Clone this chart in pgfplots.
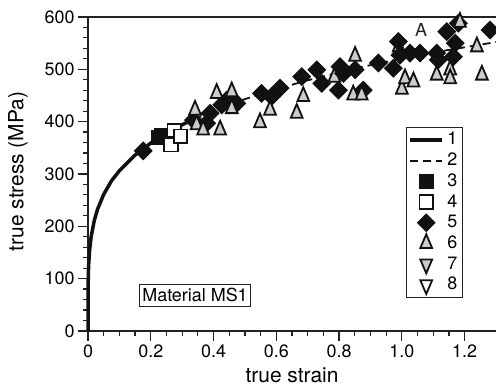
\documentclass[border=0pt]{standalone}
\usepackage{fontspec}
\setmainfont{TeX Gyre Heros}
\usepackage{pgfplots}
\pgfplotsset{compat=1.18}
\definecolor{ax}{HTML}{222222}
\definecolor{tri}{HTML}{CCCCCC}
\definecolor{dk}{HTML}{111111}
\begin{document}
\begin{tikzpicture}
\begin{axis}[
  width=408bp, height=314bp, scale only axis,
  xmin=0, xmax=1.3, ymin=0, ymax=600,
  axis x line*=bottom, axis y line*=left,
  axis line style={line width=1.8bp, color=ax},
  xtick={0,0.2,0.4,0.6,0.8,1.0,1.2},
  xticklabels={0,0.2,0.4,0.6,0.8,1.0,1.2},
  ytick={0,100,200,300,400,500,600},
  minor x tick num=3, minor y tick num=4,
  tick align=outside,
  major tick length=10bp, minor tick length=5bp,
  tick style={line width=1.2bp, color=ax},
  tick label style={font=\fontsize{18}{20}\selectfont},
  /pgf/number format/assume math mode=true,
  xlabel={true strain}, ylabel={true stress (MPa)},
  label style={font=\fontsize{21}{24}\selectfont},
  xlabel style={at={(axis description cs:0.5,-0.14)}, anchor=center},
  ylabel style={at={(axis description cs:-0.1716,0.508)}, anchor=center},
  clip=false,
  legend style={at={(axis description cs:0.779,0.6497)}, anchor=north west,
    draw=ax, line width=1.3bp, inner sep=2bp,
    font=\fontsize{18}{20}\selectfont,
    nodes={text height=12bp, text depth=2bp, inner sep=3.35bp}},
  legend cell align=left,
  legend image code/.code={\draw[mark repeat=2, mark phase=2, #1] plot coordinates {(0bp,0bp) (16bp,0bp) (32bp,0bp)};},
]
\addplot[line width=3.5bp, color=dk, no markers] coordinates {
(0,0) (0.0005,90) (0.001,106) (0.002,125) (0.005,154) (0.01,180) (0.02,211) (0.03,232) (0.05,261) (0.075,287) (0.1,306) (0.15,336) (0.2,359) (0.25,378) (0.3,394) (0.33,403)};
\addlegendentry{1}
\addplot[line width=1.8bp, color=dk, dash pattern=on 8bp off 5bp, no markers] coordinates {
(0.3,394) (0.4,421) (0.5,443) (0.6,462) (0.7,479) (0.8,494) (0.9,508) (1.0,520) (1.1,532) (1.2,542) (1.3,552)};
\addlegendentry{2}
\addplot[only marks, mark=square*, mark size=6.8bp, mark options={fill=dk, draw=dk, line width=1.5bp}] coordinates {
(0.225,370) (0.235,374)};
\addlegendentry{3}
\addplot[only marks, mark=square*, mark size=6.8bp, mark options={fill=white, draw=dk, line width=1.8bp}] coordinates {
(0.265,356) (0.275,383) (0.295,372)};
\addlegendentry{4}
\addplot[only marks, forget plot, mark=triangle*, mark size=6.8bp, mark options={fill=tri, draw=dk, line width=1.8bp, yscale=1.35}] coordinates {
(0.99,543) (0.785,485)};
\addplot[only marks, mark=square*, mark size=6.2bp, mark options={rotate=45, fill=dk, draw=dk, line width=1bp}] coordinates {
(0.176,344) (0.336,403) (0.389,416) (0.378,397) (0.442,441) (0.474,435) (0.426,432) (0.553,454) (0.585,448) (0.612,464) (0.681,486) (0.729,499) (0.745,473) (0.803,505) (0.814,492) (0.851,499) (0.798,460) (0.877,460) (0.925,512) (0.989,553) (0.994,527) (1.026,531) (0.973,502) (1.058,531) (1.111,531) (1.143,572) (1.18,588) (1.17,550) (1.164,524) (1.116,518) (1.281,575)};
\addlegendentry{5}
\addplot[only marks, mark=triangle*, mark size=6.8bp, mark options={fill=tri, draw=dk, line width=1.8bp, yscale=1.35}] coordinates {
(0.341,422) (0.346,394) (0.367,384) (0.41,454) (0.421,384) (0.458,457) (0.458,425) (0.548,398) (0.58,422) (0.665,416) (0.686,448) (0.851,525) (0.845,451) (0.872,451) (1.0,462) (1.01,482) (1.037,476) (1.111,489) (1.154,499) (1.154,482) (1.255,489) (1.239,543) (1.185,590)};
\addlegendentry{6}
\addlegendimage{only marks, mark=triangle*, mark size=6.8bp, mark options={fill=tri, draw=dk, line width=1.8bp, rotate=180, yscale=1.35}}
\addlegendentry{7}
\addlegendimage{only marks, mark=triangle*, mark size=6.8bp, mark options={fill=white, draw=dk, line width=1.8bp, rotate=180, yscale=1.35}}
\addlegendentry{8}
\draw[line width=1.8bp, ax] (axis description cs:0,1) -- (axis description cs:1,1);
\node[draw=ax, line width=1.2bp, fill=white, inner xsep=2.5bp, inner ysep=4bp, font=\fontsize{18}{20}\selectfont] at (axis cs:0.341,68) {Material MS1};
\node[font=\fontsize{18}{20}\selectfont, text=ax] at (axis cs:1.061,575) {A};
\coordinate (BL) at (axis description cs:-0.2157,-0.1815);
\coordinate (TR) at (axis description cs:1,1.054);
\end{axis}
\pgfresetboundingbox
\path[use as bounding box] (BL) rectangle (TR);
\end{tikzpicture}
\end{document}
